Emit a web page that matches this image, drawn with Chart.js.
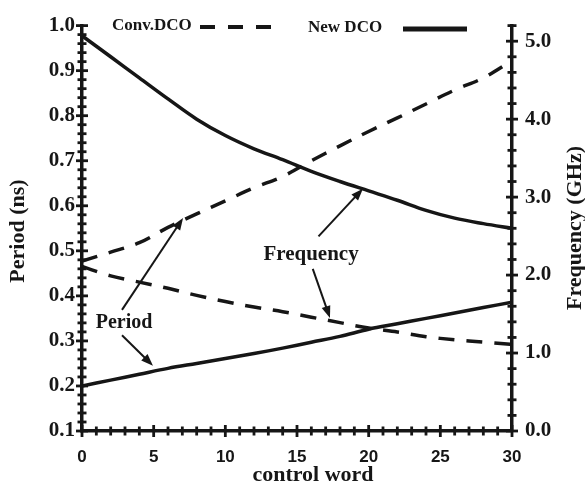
<!DOCTYPE html>
<html>
<head>
<meta charset="utf-8">
<script src="https://cdn.jsdelivr.net/npm/chart.js@4.4.0/dist/chart.umd.min.js"></script>
<style>
  html, body { margin: 0; padding: 0; background: #fff; }
  #wrap { width: 585px; height: 485px; }
</style>
</head>
<body>
<div id="wrap"><canvas id="dco-chart" width="585" height="485"></canvas></div>
<script>
// control word (x) and the four curves
const controlWord = [0, 2, 4, 6, 8, 10, 12, 14, 16, 18, 20, 22, 24, 26, 28, 30];
const convPeriod  = [0.477, 0.497, 0.518, 0.552, 0.582, 0.611, 0.640, 0.665, 0.700, 0.733, 0.765, 0.795, 0.826, 0.857, 0.884, 0.922];
const convFreq    = [2.11, 1.99, 1.91, 1.83, 1.74, 1.66, 1.59, 1.53, 1.46, 1.39, 1.32, 1.27, 1.21, 1.17, 1.14, 1.11];
const newPeriod   = [0.200, 0.213, 0.226, 0.239, 0.250, 0.261, 0.272, 0.284, 0.297, 0.310, 0.326, 0.338, 0.350, 0.362, 0.374, 0.386];
const newFreq     = [5.07, 4.80, 4.53, 4.26, 4.00, 3.79, 3.62, 3.48, 3.33, 3.20, 3.08, 2.96, 2.83, 2.73, 2.66, 2.60];

// tick labels
const xTicks = [0, 5, 10, 15, 20, 25, 30];
const periodTicks = [0.1, 0.2, 0.3, 0.4, 0.5, 0.6, 0.7, 0.8, 0.9, 1.0];
const freqTicks = [0, 1, 2, 3, 4, 5];

const INK = '#161616';
const SERIF = '"Liberation Serif", "Times New Roman", serif';
const SANS = '"Liberation Sans", Arial, sans-serif';
const DASH = [16, 12];

// annotation placement in data units (x, period axis)
const notes = {
  period:    { text: 'Period', x: 2.93, y: 0.341, size: 20 },
  frequency: { text: 'Frequency', x: 15.98, y: 0.4925, size: 21 }
};
const arrows = [
  [2.79, 0.369, 7.05, 0.573],
  [2.79, 0.3125, 4.95, 0.245],
  [16.5, 0.532, 19.6, 0.638],
  [16.1, 0.460, 17.3, 0.351]
];

const pts = vals => controlWord.map((x, i) => ({ x, y: vals[i] }));

function drawArrow(ctx, x0, y0, x1, y1) {
  const a = Math.atan2(y1 - y0, x1 - x0);
  const hl = 12, hw = 4.5;
  ctx.beginPath();
  ctx.moveTo(x0, y0);
  ctx.lineTo(x1 - Math.cos(a) * hl * 0.8, y1 - Math.sin(a) * hl * 0.8);
  ctx.stroke();
  ctx.beginPath();
  ctx.moveTo(x1, y1);
  ctx.lineTo(x1 - hl * Math.cos(a) + hw * Math.sin(a), y1 - hl * Math.sin(a) - hw * Math.cos(a));
  ctx.lineTo(x1 - hl * Math.cos(a) - hw * Math.sin(a), y1 - hl * Math.sin(a) + hw * Math.cos(a));
  ctx.closePath();
  ctx.fill();
}

const decorPlugin = {
  id: 'decor',
  afterDraw(chart) {
    const { ctx, chartArea: ca, scales: { x, y, y1 } } = chart;
    ctx.save();
    ctx.strokeStyle = INK;
    ctx.fillStyle = INK;

    // ticks crossing the axis lines
    ctx.lineWidth = 2.8;
    const seg = (ax, ay, bx, by) => { ctx.beginPath(); ctx.moveTo(ax, ay); ctx.lineTo(bx, by); ctx.stroke(); };
    for (let i = 0; i <= 30; i++) {
      const px = x.getPixelForValue(i), h = i % 5 === 0 ? 6 : 4.5;
      seg(px, ca.bottom - h, px, ca.bottom + h);
    }
    for (let i = 0; i <= 45; i++) {
      const py = y.getPixelForValue(0.1 + i * 0.02), h = i % 5 === 0 ? 6 : 4.5;
      seg(ca.left - h, py, ca.left + h, py);
    }
    for (let i = 0; i <= 26; i++) {
      const py = y1.getPixelForValue(i * 0.2), h = i % 5 === 0 ? 6 : 4.5;
      seg(ca.right - h, py, ca.right + h, py);
    }

    // legend
    ctx.font = 'bold 17px ' + SERIF;
    ctx.textBaseline = 'middle';
    ctx.textAlign = 'left';
    ctx.fillText('Conv.DCO', ca.left + 30, 26);
    ctx.lineWidth = 4;
    ctx.setLineDash([15, 13]);
    seg(ca.left + 118, 27, ca.left + 192, 27);
    ctx.setLineDash([]);
    ctx.fillText('New DCO', ca.left + 226, 28);
    ctx.lineWidth = 5;
    seg(ca.left + 321, 29, ca.left + 385, 29);

    // arrows and notes
    ctx.lineWidth = 2;
    arrows.forEach(([a, b, c, d]) => drawArrow(ctx,
      x.getPixelForValue(a), y.getPixelForValue(b),
      x.getPixelForValue(c), y.getPixelForValue(d)));
    ctx.textAlign = 'center';
    Object.values(notes).forEach(n => {
      ctx.font = 'bold ' + n.size + 'px ' + SERIF;
      ctx.fillText(n.text, x.getPixelForValue(n.x), y.getPixelForValue(n.y));
    });

    // axis titles
    ctx.font = 'bold 22px ' + SERIF;
    ctx.fillText('control word', 313, 475);
    ctx.save();
    ctx.translate(18, 231);
    ctx.rotate(-Math.PI / 2);
    ctx.fillText('Period (ns)', 0, 0);
    ctx.restore();
    ctx.save();
    ctx.translate(575, 228);
    ctx.rotate(-Math.PI / 2);
    ctx.fillText('Frequency (GHz)', 0, 0);
    ctx.restore();

    ctx.restore();
  }
};

const line = (vals, axis, dashed) => ({
  data: pts(vals),
  yAxisID: axis,
  borderColor: INK,
  borderWidth: 3.5,
  borderDash: dashed ? DASH : [],
  pointRadius: 0,
  fill: false,
  tension: 0.35
});

new Chart(document.getElementById('dco-chart').getContext('2d'), {
  type: 'line',
  data: {
    datasets: [
      line(convPeriod, 'y', true),
      line(convFreq, 'y1', true),
      line(newPeriod, 'y', false),
      line(newFreq, 'y1', false)
    ]
  },
  options: {
    responsive: false,
    animation: false,
    layout: { padding: { top: 16, left: 0, right: 0, bottom: 0 } },
    plugins: { legend: { display: false }, tooltip: { enabled: false } },
    scales: {
      x: {
        type: 'linear', min: 0, max: 30,
        grid: { display: false, drawTicks: false },
        border: { display: true, color: INK, width: 3.5 },
        ticks: { padding: 16, color: INK, autoSkip: false, maxRotation: 0,
                 font: { family: SANS, weight: 'bold', size: 17 },
                 callback: v => String(v) },
        afterBuildTicks: s => { s.ticks = xTicks.map(v => ({ value: v })); },
        afterFit: s => { s.height = 54; }
      },
      y: {
        position: 'left', min: 0.1, max: 1.0,
        grid: { display: false, drawTicks: false },
        border: { display: true, color: INK, width: 3.5 },
        ticks: { padding: 7, color: INK, autoSkip: false,
                 font: { family: SERIF, weight: 'bold', size: 21 },
                 callback: v => v.toFixed(1) },
        afterBuildTicks: s => { s.ticks = periodTicks.map(v => ({ value: v })); },
        afterFit: s => { s.width = 82; }
      },
      y1: {
        position: 'right', min: 0, max: 5.2,
        grid: { display: false, drawTicks: false },
        border: { display: true, color: INK, width: 3.5 },
        ticks: { padding: 13, color: INK, autoSkip: false,
                 font: { family: SERIF, weight: 'bold', size: 21 },
                 callback: v => v.toFixed(1) },
        afterBuildTicks: s => { s.ticks = freqTicks.map(v => ({ value: v })); },
        afterFit: s => { s.width = 73; }
      }
    }
  },
  plugins: [decorPlugin]
});
</script>
</body>
</html>
